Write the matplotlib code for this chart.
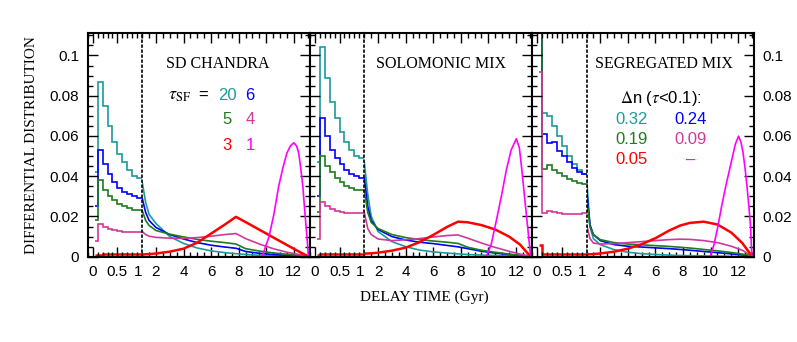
import matplotlib
matplotlib.use('Agg')
import matplotlib.pyplot as plt
from matplotlib.ticker import MultipleLocator

plt.rcParams['font.family'] = ['Liberation Sans', 'DejaVu Sans']
plt.rcParams['mathtext.fontset'] = 'stix'

# tau_SF = 20, 6, 5, 4, 3  (tau=1 is kept separately, it only has the late peak)
colors = ['#1e9a9a', '#0000ff', '#1e7d1e', '#d0389c', '#ff0000']
mag_color = '#ff00ff'

# 0-1 Gyr histogram bins
left_edges = [0.04, 0.1, 0.2, 0.3, 0.4, 0.5, 0.6, 0.7, 0.8, 0.9, 1.0]
left_mag = [0, 0, 0, 0, 0, 0, 0, 0, 0, 0]
# 1-13 Gyr smooth part
xr = [1.0, 1.25, 1.5, 2.0, 3.0, 4.0, 5.0, 6.0, 7.0, 7.8, 8.5, 9.5, 10.5, 11.5, 12.3, 13.0]

# SD CHANDRA
sd_left = [
    [0.042, 0.087, 0.075, 0.065, 0.057, 0.051, 0.047, 0.043, 0.040, 0.039],
    [0.025, 0.053, 0.046, 0.041, 0.037, 0.034, 0.032, 0.031, 0.030, 0.029],
    [0.018, 0.038, 0.033, 0.030, 0.028, 0.026, 0.025, 0.024, 0.023, 0.023],
    [0.008, 0.016, 0.0148, 0.0138, 0.0132, 0.0127, 0.0124, 0.0122, 0.0121, 0.0121],
    [0.0006, 0.0010, 0.0011, 0.0012, 0.0012, 0.0013, 0.0013, 0.0013, 0.0013, 0.0013],
]
sd_right = [
    [0.037, 0.027, 0.021, 0.0165, 0.0100, 0.0066, 0.0043, 0.0029, 0.0020, 0.0015, 0.0011, 0.0007, 0.0005, 0.0004, 0.0003, 0.0002],
    [0.029, 0.022, 0.018, 0.0145, 0.0110, 0.0088, 0.0070, 0.0057, 0.0048, 0.0042, 0.0026, 0.0017, 0.0011, 0.0007, 0.0005, 0.0003],
    [0.023, 0.018, 0.0155, 0.0130, 0.0112, 0.0098, 0.0086, 0.0077, 0.0070, 0.0063, 0.0040, 0.0028, 0.0019, 0.0012, 0.0007, 0.0003],
    [0.0125, 0.011, 0.0102, 0.0096, 0.0092, 0.0091, 0.0095, 0.0102, 0.0110, 0.0115, 0.0090, 0.0063, 0.0040, 0.0022, 0.0012, 0.0003],
    [0.0010, 0.0012, 0.0013, 0.0016, 0.0025, 0.0040, 0.0070, 0.0115, 0.0160, 0.0198, 0.0172, 0.0134, 0.0096, 0.0058, 0.0028, 0.0003],
]
sd_mag_x = [1.0, 9.7, 10.2, 10.55, 10.9, 11.2, 11.5, 11.75, 12.0, 12.2, 12.35, 12.5, 12.65, 12.8, 12.95, 13.06]
sd_mag_y = [0, 0, 0.010, 0.021, 0.035, 0.044, 0.0516, 0.055, 0.0566, 0.055, 0.0516, 0.044, 0.035, 0.022, 0.010, 0]

# SOLOMONIC MIX
sol_left = [
    [0.047, 0.104, 0.089, 0.077, 0.069, 0.062, 0.057, 0.053, 0.050, 0.049],
    [0.030, 0.069, 0.060, 0.053, 0.049, 0.046, 0.043, 0.041, 0.040, 0.039],
    [0.022, 0.050, 0.045, 0.042, 0.039, 0.037, 0.035, 0.034, 0.033, 0.033],
    [0.009, 0.027, 0.025, 0.0235, 0.0225, 0.022, 0.0218, 0.0216, 0.0216, 0.0218],
    [0.0008, 0.0012, 0.0013, 0.0014, 0.0014, 0.0015, 0.0015, 0.0015, 0.0015, 0.0015],
]
sol_right = [
    [0.047, 0.031, 0.020, 0.0125, 0.0075, 0.0050, 0.0033, 0.0024, 0.0018, 0.0014, 0.0011, 0.0008, 0.0006, 0.0004, 0.0003, 0.0002],
    [0.039, 0.025, 0.018, 0.0135, 0.0100, 0.0083, 0.0072, 0.0065, 0.0056, 0.0049, 0.0040, 0.0027, 0.0018, 0.0011, 0.0006, 0.0003],
    [0.033, 0.022, 0.017, 0.0140, 0.0110, 0.0095, 0.0085, 0.0078, 0.0072, 0.0066, 0.0047, 0.0032, 0.0022, 0.0013, 0.0007, 0.0003],
    [0.022, 0.014, 0.011, 0.0088, 0.0080, 0.0084, 0.0090, 0.0098, 0.0105, 0.0108, 0.0092, 0.0068, 0.0046, 0.0027, 0.0013, 0.0003],
    [0.0015, 0.0016, 0.0017, 0.0020, 0.0030, 0.0045, 0.0072, 0.0108, 0.0148, 0.0174, 0.0171, 0.0157, 0.0135, 0.0100, 0.0060, 0.0005],
]
sol_mag_x = [1.0, 9.85, 10.2, 10.58, 11.0, 11.3, 11.65, 12.03, 12.25, 12.43, 12.62, 12.8, 13.07]
sol_mag_y = [0, 0, 0.006, 0.018, 0.032, 0.043, 0.053, 0.0586, 0.054, 0.043, 0.030, 0.018, 0]

# SEGREGATED MIX (first bin is the prompt spike)
seg_left = [
    [0.33, 0.0715, 0.070, 0.065, 0.060, 0.055, 0.050, 0.046, 0.043, 0.041],
    [0.25, 0.061, 0.0565, 0.057, 0.0525, 0.050, 0.047, 0.044, 0.042, 0.041],
    [0.19, 0.0436, 0.0455, 0.0432, 0.0416, 0.040, 0.0386, 0.0374, 0.0366, 0.036],
    [0.092, 0.0219, 0.0228, 0.022, 0.0215, 0.0213, 0.0212, 0.0212, 0.0213, 0.0215],
    [0.0057, 0.0012, 0.0012, 0.0012, 0.0012, 0.0012, 0.0012, 0.0012, 0.0012, 0.0012],
]
seg_right = [
    [0.040, 0.015, 0.009, 0.0060, 0.0035, 0.0022, 0.0015, 0.0011, 0.0008, 0.0006, 0.0005, 0.0004, 0.0003, 0.0002, 0.0002, 0.0001],
    [0.034, 0.016, 0.011, 0.0080, 0.0060, 0.0052, 0.0048, 0.0044, 0.0040, 0.0036, 0.0032, 0.0026, 0.0020, 0.0014, 0.0009, 0.0004],
    [0.030, 0.015, 0.011, 0.0085, 0.0070, 0.0063, 0.0059, 0.0055, 0.0051, 0.0047, 0.0043, 0.0036, 0.0029, 0.0021, 0.0013, 0.0005],
    [0.016, 0.009, 0.0068, 0.0063, 0.0065, 0.0070, 0.0075, 0.0080, 0.0085, 0.0087, 0.0086, 0.0080, 0.0070, 0.0052, 0.0032, 0.0003],
    [0.0012, 0.0012, 0.0013, 0.0016, 0.0025, 0.0040, 0.0062, 0.0092, 0.0130, 0.0155, 0.0168, 0.0174, 0.0160, 0.0120, 0.0068, 0.0003],
]
seg_mag_x = [1.0, 9.97, 10.25, 10.53, 10.8, 11.1, 11.5, 11.8, 12.03, 12.2, 12.35, 12.5, 12.64, 12.78, 12.9, 13.0]
seg_mag_y = [0, 0, 0.006, 0.015, 0.025, 0.035, 0.047, 0.056, 0.0599, 0.057, 0.052, 0.044, 0.035, 0.025, 0.015, 0]

titles = ['SD CHANDRA', 'SOLOMONIC MIX', 'SEGREGATED MIX']
panels = [(sd_left, sd_right, sd_mag_x, sd_mag_y),
          (sol_left, sol_right, sol_mag_x, sol_mag_y),
          (seg_left, seg_right, seg_mag_x, seg_mag_y)]

yticks = [0, 0.02, 0.04, 0.06, 0.08, 0.1]
ylabels = ['0', '0.02', '0.04', '0.06', '0.08', '0.1']

W, H = 797, 342
fig = plt.figure(figsize=(W / 100, H / 100), dpi=100)

# layout in pixels
top, bottom = 33.3, 256.7
panel_x = [87.7, 309.8, 532.0]
panel_w = 222.0
split_w = 54.5


def fx(x):
    return x / W


def fy(y):
    return 1 - y / H


def style(ax):
    for s in ax.spines.values():
        s.set_linewidth(1.5)
    ax.set_ylim(0, 0.111)
    ax.set_yticks(yticks, ylabels)
    ax.yaxis.set_minor_locator(MultipleLocator(0.005))
    ax.tick_params(which='both', direction='in', top=True, labelsize=11, width=1)
    ax.tick_params(which='major', length=7, pad=6)
    ax.tick_params(which='minor', length=3.5)


for i, (left, right, mx, my) in enumerate(panels):
    x0 = panel_x[i]
    axl = fig.add_axes([fx(x0), fy(bottom), fx(split_w), (bottom - top) / H])
    axr = fig.add_axes([fx(x0 + split_w), fy(bottom), fx(panel_w - split_w), (bottom - top) / H])

    for k, c in enumerate(colors):
        lw = 1.8 if k == 4 else 1.2
        axl.stairs(left[k], left_edges, baseline=None, color=c, lw=lw)
        axr.plot(xr, right[k], color=c, lw=lw)
    axl.stairs(left_mag, left_edges, baseline=None, color=mag_color, lw=1.2)
    axr.plot(mx, my, color=mag_color, lw=1.2)

    style(axl)
    axl.set_xlim(-0.1, 1.0)
    axl.set_xticks([0, 0.5, 1.0], ['0', '0.5', '1'])
    axl.xaxis.set_minor_locator(MultipleLocator(0.1))
    axl.spines['right'].set_visible(False)
    axl.tick_params(which='both', right=False, labelleft=(i == 0))
    axl.xaxis.get_major_ticks()[2].label1.set_horizontalalignment('right')

    style(axr)
    axr.set_xlim(1.0, 13.15)
    axr.set_xticks([2, 4, 6, 8, 10, 12], ['2', '4', '6', '8', '10', '12'])
    axr.xaxis.set_minor_locator(MultipleLocator(0.5))
    axr.spines['left'].set_linestyle((0, (1, 2)))
    axr.spines['left'].set_linewidth(1.2)
    axr.tick_params(which='both', left=False, right=True, labelleft=False, labelright=(i == 2))

title_x = [218, 441, 664]
for t, x in zip(titles, title_x):
    fig.text(fx(x), fy(64), t, family='Liberation Serif', fontsize=11.5,
             ha='center', va='center')

# tau_SF key, first panel
fig.text(fx(180), fy(96), r'$\tau_{\rm SF}$', fontsize=13, ha='center', va='center')
fig.text(fx(203), fy(95), '=', fontsize=12, ha='center', va='center')
key_rows = [95, 120, 146]
key_text = [['20', '6'], ['5', '4'], ['3', '1']]
key_col = [[colors[0], colors[1]], [colors[2], colors[3]], [colors[4], mag_color]]
for r, y in enumerate(key_rows):
    for c, x in enumerate([227, 250]):
        fig.text(fx(x), fy(y), key_text[r][c], color=key_col[r][c], fontsize=12,
                 ha='center', va='center')

# prompt fraction key, third panel
fig.text(fx(661), fy(99), r'$\Delta$n ($\tau$<0.1):', fontsize=12, ha='center', va='center')
dn_rows = [120, 140, 160]
dn_text = [['0.32', '0.24'], ['0.19', '0.09'], ['0.05', '\u2013']]
for r, y in enumerate(dn_rows):
    for c, x in enumerate([632, 691]):
        fig.text(fx(x), fy(y), dn_text[r][c], color=key_col[r][c], fontsize=12,
                 ha='center', va='center')

fig.text(fx(424), fy(297), 'DELAY TIME (Gyr)', family='Liberation Serif', fontsize=11,
         ha='center', va='center')
fig.text(fx(32), fy(145), 'DIFFERENTIAL DISTRIBUTION', family='Liberation Serif', fontsize=11,
         rotation=90, ha='center', va='center')

fig.savefig('out.png', dpi=100)
